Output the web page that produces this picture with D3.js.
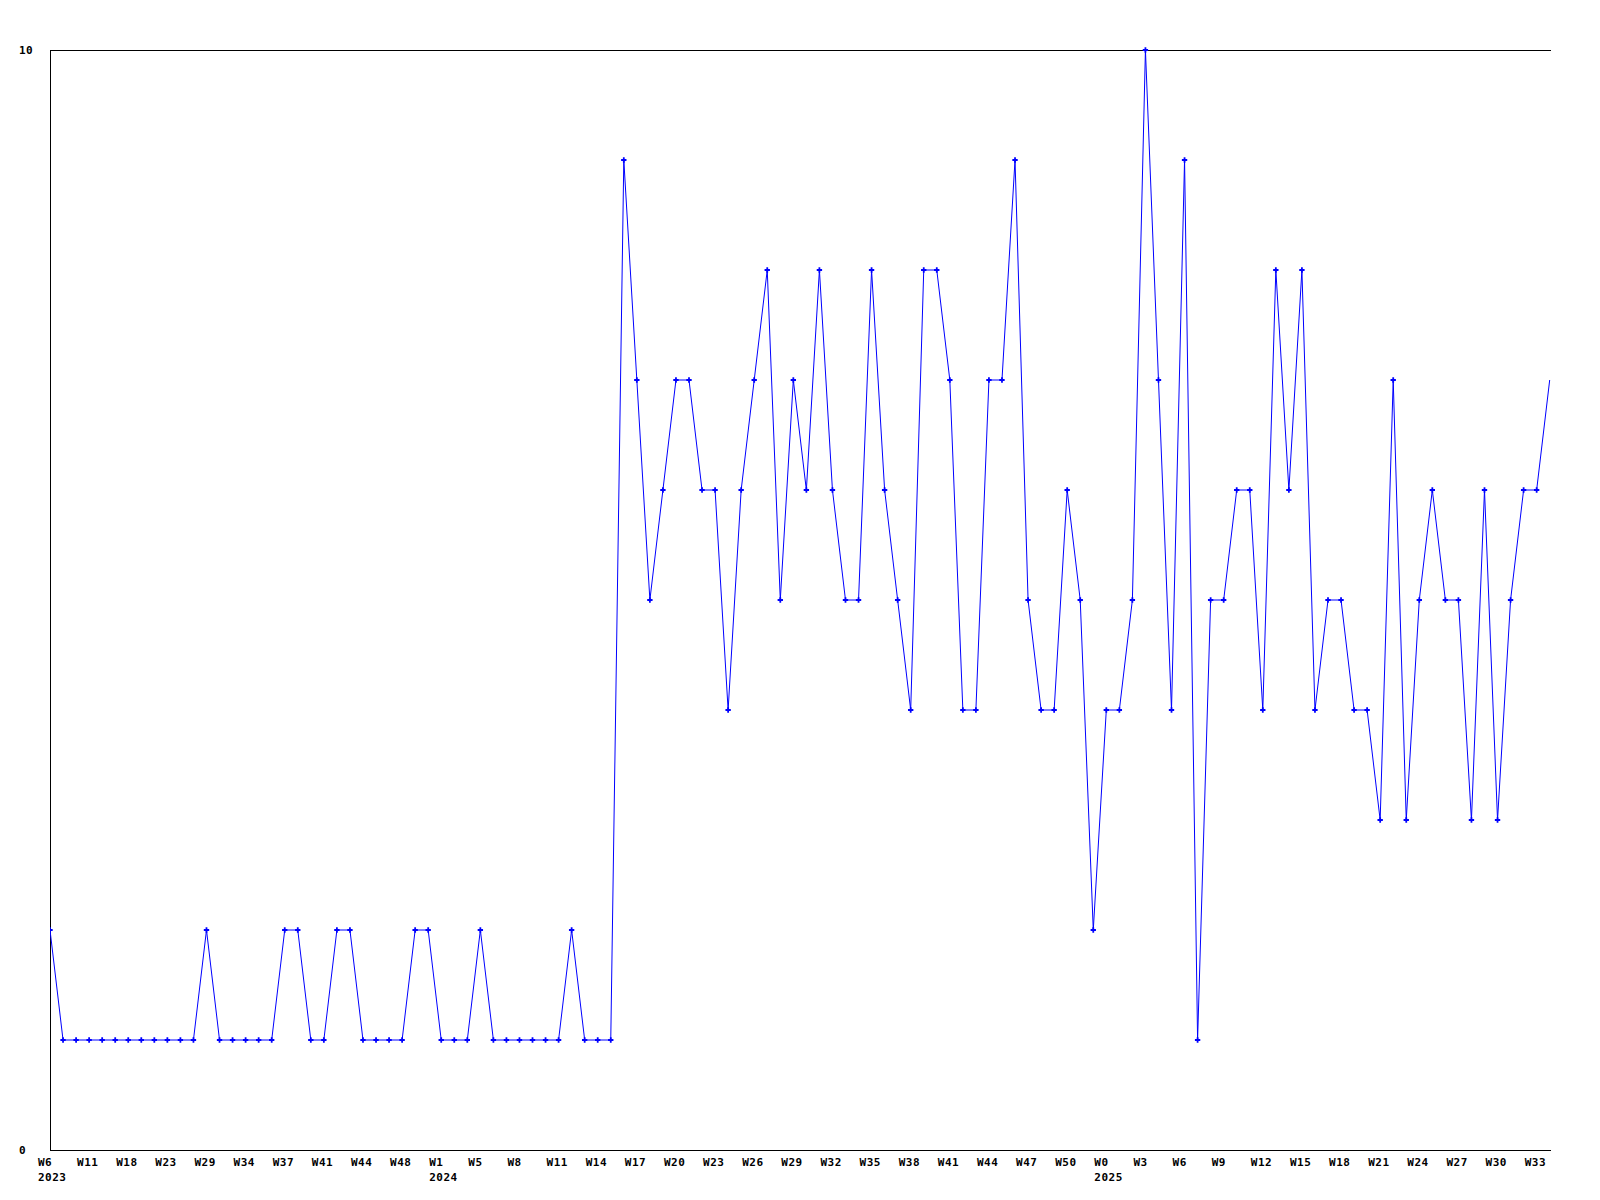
<!DOCTYPE html>
<html>
<head>
<meta charset="utf-8">
<script src="https://cdn.jsdelivr.net/npm/d3@7"></script>
<style>
  html, body { margin: 0; padding: 0; background: #ffffff; }
  svg { display: block; }
  text { font-family: "DejaVu Sans Mono", "Liberation Mono", monospace; font-weight: bold; font-size: 11px; letter-spacing: 0.5px; fill: #000; }
</style>
</head>
<body>
<svg id="chart" width="1600" height="1200"></svg>
<script>
// Weekly values, one per point (x is the sequence index)
const values = [
  2,1,1,1,1,1,1,1,1,1,1,1,2,1,1,1,1,1,2,2,
  1,1,2,2,1,1,1,1,2,2,1,1,1,2,1,1,1,1,1,1,
  2,1,1,1,9,7,5,6,7,7,6,6,4,6,7,8,5,7,6,8,
  6,5,5,8,6,5,4,8,8,7,4,4,7,7,9,5,4,4,6,5,
  2,4,4,5,10,7,4,9,1,5,5,6,6,4,8,6,8,4,5,5,
  4,4,3,7,3,5,6,5,5,3,6,3,5,6,6,7
];
// Tick labels, one every third point
const tickLabels = [
  "W6","W11","W18","W23","W29","W34","W37","W41","W44","W48",
  "W1","W5","W8","W11","W14","W17","W20","W23","W26","W29",
  "W32","W35","W38","W41","W44","W47","W50","W0","W3","W6",
  "W9","W12","W15","W18","W21","W24","W27","W30","W33"
];
const tickStep = 3;
const yearLabels = ["2023","2024","2025"];
const yTicks = [0, 10];

(function () {
const svg = d3.select("#chart");
const pL = 50, pT = 50, pR = 1551, pB = 1150;

const x = d3.scaleLinear().domain([0, values.length - 1 + 0.1]).range([pL, pR]);
const y = d3.scaleLinear().domain([0, 10]).range([pB, pT]);

// frame: left, top, bottom
svg.append("line").attr("x1", pL + 0.5).attr("x2", pL + 0.5).attr("y1", pT).attr("y2", pB)
  .attr("stroke", "#000").attr("stroke-width", 1);
svg.append("line").attr("x1", pL).attr("x2", pR).attr("y1", pT + 0.5).attr("y2", pT + 0.5)
  .attr("stroke", "#000").attr("stroke-width", 1);
svg.append("line").attr("x1", pL).attr("x2", pR).attr("y1", pB + 0.5).attr("y2", pB + 0.5)
  .attr("stroke", "#000").attr("stroke-width", 1);

// y labels
svg.selectAll("text.ylab").data(yTicks).enter().append("text")
  .attr("class", "ylab")
  .attr("x", 19)
  .attr("y", d => y(d) + 4)
  .text(d => d);

// x tick labels
const ticks = tickLabels.map((lab, k) => ({ lab, idx: k * tickStep }));
svg.selectAll("text.xlab").data(ticks).enter().append("text")
  .attr("class", "xlab")
  .attr("x", d => x(d.idx) - 12)
  .attr("y", 1166)
  .text(d => d.lab);

// year labels: placed at the first tick and wherever the week number wraps
const yearTicks = [];
let prevWeek = Infinity;
ticks.forEach((t, k) => {
  const w = +t.lab.slice(1);
  if (k === 0 || w < prevWeek) yearTicks.push(t);
  prevWeek = w;
});
svg.selectAll("text.year").data(yearTicks.map((t, i) => ({ idx: t.idx, lab: yearLabels[i] })))
  .enter().append("text")
  .attr("class", "year")
  .attr("x", d => x(d.idx) - 12)
  .attr("y", 1181)
  .text(d => d.lab);

// clip for series
svg.append("clipPath").attr("id", "plotclip").append("rect")
  .attr("x", pL).attr("y", pT - 3).attr("width", pR - pL).attr("height", pB - pT + 6);

const g = svg.append("g").attr("clip-path", "url(#plotclip)");
const line = d3.line().x((d, i) => x(i)).y(d => y(d));
g.append("path").datum(values).attr("d", line)
  .attr("fill", "none").attr("stroke", "#0000ff").attr("stroke-width", 1);

const sym = d3.symbol().type(d3.symbolCross).size(16);
g.selectAll("path.mk").data(values.slice(0, values.length - 1)).enter().append("path")
  .attr("class", "mk")
  .attr("transform", (d, i) => `translate(${x(i)},${y(d)})`)
  .attr("d", sym)
  .attr("fill", "#0000ff");
})();
</script>
</body>
</html>
